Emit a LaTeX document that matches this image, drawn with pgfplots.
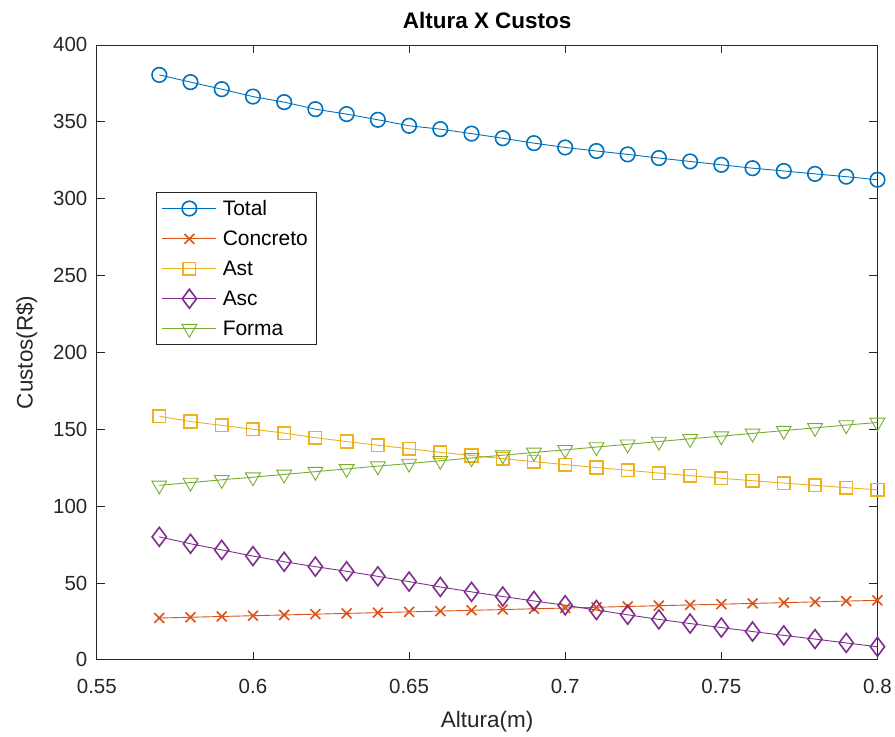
\documentclass[border=0pt]{standalone}
\usepackage{fontspec}
\setmainfont{Liberation Sans}
\usepackage{pgfplots}
\pgfplotsset{compat=1.18}
\definecolor{c1}{rgb}{0,0.447,0.741}
\definecolor{c2}{rgb}{0.85,0.325,0.098}
\definecolor{c3}{rgb}{0.929,0.694,0.125}
\definecolor{c4}{rgb}{0.494,0.184,0.556}
\definecolor{c5}{rgb}{0.466,0.674,0.188}
\definecolor{ax}{rgb}{0.15,0.15,0.15}
\begin{document}
\begin{tikzpicture}
\begin{axis}[
  name=main,
  scale only axis, width=782pt, height=616pt,
  xmin=0.55, xmax=0.8, ymin=0, ymax=400,
  xtick={0.55,0.6,0.65,0.7,0.75,0.8},
  xticklabels={0.55,0.6,0.65,0.7,0.75,0.8},
  ytick={0,50,100,150,200,250,300,350,400},
  scaled ticks=false,
  tick align=inside, major tick length=8pt,
  axis line style={ax, line width=0.8pt},
  every tick/.style={ax, line width=0.8pt},
  tick label style={font=\fontsize{20.5}{24}\selectfont, color=ax},
  xticklabel style={yshift=-16pt},
  yticklabel style={xshift=-6pt},
  /pgf/number format/assume math mode=true,
  xlabel={Altura(m)}, ylabel={Custos(R\$)},
  label style={font=\fontsize{22.5}{26}\selectfont, color=ax},
  title={\textbf{Altura X Custos}},
  title style={font=\fontsize{22.5}{26}\selectfont, yshift=7pt},
  xlabel style={yshift=-11pt},
  ylabel style={yshift=9pt},
  legend style={at={(rel axis cs:0.0754,0.761)}, anchor=north west,
    font=\fontsize{21}{25}\selectfont, draw=ax, line width=0.6pt,
    row sep=10pt, inner xsep=6pt, inner ysep=6pt,
    /tikz/every odd column/.append style={column sep=4pt}},
  legend cell align=left,
  legend image code/.code={\draw[mark repeat=2,mark phase=2] plot coordinates {(0pt,0pt) (27pt,0pt) (54pt,0pt)};},
  every axis plot/.append style={line width=0.9pt, mark options={solid, line width=1.6pt}},
]
\addplot[c1, mark=o, mark size=7.3pt] coordinates {
(0.57,380.5)(0.58,375.8)(0.59,371.2)(0.60,366.4)(0.61,362.8)(0.62,358.2)(0.63,355.0)(0.64,351.3)
(0.65,347.4)(0.66,345.2)(0.67,342.3)(0.68,339.3)(0.69,336.1)(0.70,333.3)(0.71,331.0)(0.72,328.8)
(0.73,326.4)(0.74,324.2)(0.75,322.0)(0.76,319.8)(0.77,318.0)(0.78,316.1)(0.79,314.3)(0.80,312.3)};
\addlegendentry{Total}
\addplot[c2, mark=x, mark size=7pt] coordinates {
(0.57,27.2)(0.58,27.7)(0.59,28.2)(0.60,28.7)(0.61,29.2)(0.62,29.7)(0.63,30.2)(0.64,30.7)
(0.65,31.2)(0.66,31.7)(0.67,32.2)(0.68,32.7)(0.69,33.2)(0.70,33.7)(0.71,34.2)(0.72,34.7)
(0.73,35.2)(0.74,35.7)(0.75,36.2)(0.76,36.7)(0.77,37.2)(0.78,37.7)(0.79,38.2)(0.80,38.7)};
\addlegendentry{Concreto}
\addplot[c3, mark=square, mark size=6.3pt] coordinates {
(0.57,158.5)(0.58,155.0)(0.59,152.5)(0.60,150.0)(0.61,147.5)(0.62,144.5)(0.63,142.0)(0.64,139.6)
(0.65,137.3)(0.66,135.0)(0.67,132.9)(0.68,130.9)(0.69,128.9)(0.70,127.0)(0.71,125.1)(0.72,123.3)
(0.73,121.5)(0.74,119.8)(0.75,118.1)(0.76,116.5)(0.77,115.0)(0.78,113.5)(0.79,112.0)(0.80,110.6)};
\addlegendentry{Ast}
\addplot[c4, mark=diamond, mark size=9.5pt] coordinates {
(0.57,80.0)(0.58,75.5)(0.59,71.5)(0.60,67.5)(0.61,63.8)(0.62,60.6)(0.63,57.6)(0.64,54.3)
(0.65,50.9)(0.66,47.4)(0.67,44.2)(0.68,41.2)(0.69,38.3)(0.70,35.5)(0.71,32.4)(0.72,29.3)
(0.73,26.3)(0.74,23.6)(0.75,21.0)(0.76,18.4)(0.77,15.9)(0.78,13.5)(0.79,11.0)(0.80,8.5)};
\addlegendentry{Asc}
\addplot[c5, mark=triangle, mark size=8.6pt, mark options={rotate=180}] coordinates {
(0.57,113.5)(0.58,115.3)(0.59,117.1)(0.60,118.8)(0.61,120.6)(0.62,122.4)(0.63,124.2)(0.64,126.0)
(0.65,127.7)(0.66,129.5)(0.67,131.3)(0.68,133.1)(0.69,134.9)(0.70,136.6)(0.71,138.4)(0.72,140.2)
(0.73,142.0)(0.74,143.8)(0.75,145.5)(0.76,147.3)(0.77,149.1)(0.78,150.9)(0.79,152.7)(0.80,154.4)};
\addlegendentry{Forma}
\end{axis}
\path (main.south west) ++(-97pt,-77pt);
\path (main.north east) ++(16pt,45pt);
\end{tikzpicture}
\end{document}
